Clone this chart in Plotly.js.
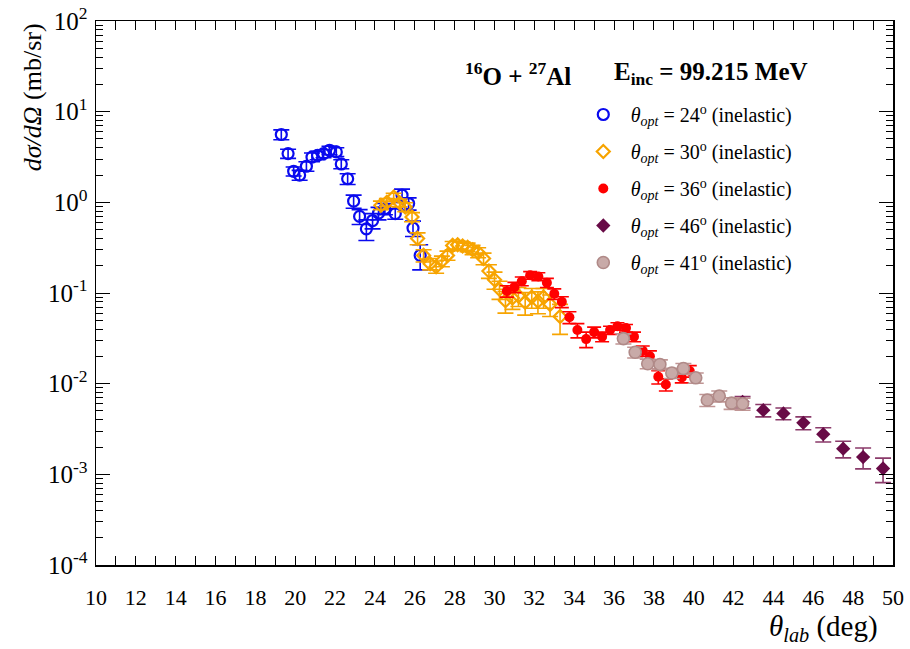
<!DOCTYPE html>
<html>
<head>
<meta charset="utf-8">
<script src="https://cdn.plot.ly/plotly-3.0.1.min.js"></script>
<style>html,body{margin:0;padding:0;background:#fff;}#chart{width:910px;height:649px;}</style>
</head>
<body>
<div id="chart"></div>
<script>
// ---- data ----
var blueX = [19.30,19.64,19.92,20.22,20.56,20.84,21.12,21.42,21.72,22.06,22.31,22.63,22.93,23.23,23.57,23.88,24.18,24.50,25.02,25.36,25.69,25.91,26.27];
var blueY = [5.6,3.45,2.2,2.0,2.5,3.15,3.3,3.45,3.75,3.6,2.65,1.82,1.03,0.70,0.51,0.63,0.76,0.85,0.75,1.2,0.97,0.52,0.26];
var blueE = [0.7,0.4,0.25,0.25,0.3,0.35,0.35,0.35,0.4,0.4,0.3,0.25,0.17,0.13,0.13,0.12,0.12,0.12,0.1,0.2,0.15,0.1,0.08];

var orangeX = [24.30,24.60,24.94,25.24,25.52,25.86,26.14,26.44,26.77,27.07,27.36,27.64,27.90,28.15,28.40,28.65,28.90,29.18,29.45,29.72,30.00,30.25,30.55,30.90,31.20,31.54,31.87,32.18,32.46,32.79,33.29];
var orangeY = [0.93,1.0,1.14,0.99,0.89,0.69,0.40,0.26,0.21,0.195,0.225,0.26,0.335,0.34,0.33,0.32,0.30,0.28,0.24,0.175,0.14,0.11,0.082,0.088,0.093,0.079,0.09,0.081,0.09,0.075,0.055];
var orangeE = [0.1,0.1,0.12,0.1,0.1,0.08,0.06,0.04,0.03,0.03,0.03,0.03,0.035,0.035,0.035,0.035,0.035,0.035,0.035,0.03,0.03,0.025,0.022,0.022,0.022,0.022,0.022,0.022,0.022,0.02,0.02];

var redX = [30.62,31.00,31.37,31.79,32.20,32.63,33.00,33.38,33.76,34.16,34.60,35.00,35.40,35.80,36.17,36.60,37.00,37.44,37.80,38.22,38.60,39.40,39.80];
var redY = [0.105,0.116,0.135,0.157,0.152,0.13,0.098,0.080,0.054,0.039,0.031,0.037,0.033,0.039,0.043,0.041,0.033,0.023,0.020,0.0119,0.0098,0.0117,0.0138];
var redE = [0.015,0.015,0.015,0.015,0.015,0.015,0.013,0.011,0.008,0.007,0.006,0.005,0.004,0.004,0.004,0.004,0.004,0.003,0.003,0.002,0.0015,0.0015,0.002];

var purpleX = [42.45,43.49,44.50,45.50,46.50,47.50,48.50,49.50];
var purpleY = [0.0063,0.0051,0.0047,0.0037,0.00277,0.00192,0.00155,0.00116];
var purpleE = [0.0009,0.0008,0.0007,0.0006,0.0005,0.0004,0.0004,0.00035];

var pinkX = [36.47,37.06,37.69,38.30,38.90,39.48,40.10,40.68,41.28,41.90,42.45];
var pinkY = [0.0314,0.0222,0.0166,0.0163,0.0131,0.0147,0.0116,0.0066,0.0073,0.0061,0.0060];
var pinkE = [0.004,0.003,0.002,0.002,0.0017,0.002,0.0015,0.001,0.001,0.0009,0.0009];

var seriesNames = ['24','30','36','46','41'];
var xTickVals = [10,12,14,16,18,20,22,24,26,28,30,32,34,36,38,40,42,44,46,48,50];
var yTickVals = [1e-4,1e-3,1e-2,1e-1,1,10,100];
var yTickText = ['10<sup>-4</sup>','10<sup>-3</sup>','10<sup>-2</sup>','10<sup>-1</sup>','10<sup>0</sup>','10<sup>1</sup>','10<sup>2</sup>'];

// ---- build ----
function legName(a){ return '<i>θ</i><sub><i>opt</i></sub> = ' + a + '<sup>o</sup> (inelastic)'; }
function errObj(arr, col, w){ return {type:'data', array:arr, visible:true, color:col, thickness:1.6, width:w}; }

var minorY = [];
for (var d = -4; d < 2; d++) { for (var k = 2; k <= 9; k++) minorY.push(k * Math.pow(10, d)); }

var cBlue = '#0a0aee', cOrange = '#f7a400', cRed = '#ff0000', cPurple = '#680a46', cPink = '#c8aaa8', cPinkLine = '#b08a88';

var traces = [
  {x: blueX, y: blueY, error_y: errObj(blueE, cBlue, 8), type:'scatter', mode:'markers', name: legName(seriesNames[0]), legendgroup:'a',
   marker:{symbol:'circle-open', size:11, color:cBlue, line:{width:2.2, color:cBlue}}},
  {x: orangeX, y: orangeY, error_y: errObj(orangeE, cOrange, 8), type:'scatter', mode:'markers', name: legName(seriesNames[1]), legendgroup:'b',
   marker:{symbol:'diamond-open', size:10, color:cOrange, line:{width:2.2, color:cOrange}}},
  {x: redX, y: redY, error_y: errObj(redE, cRed, 7), type:'scatter', mode:'markers', name: legName(seriesNames[2]), legendgroup:'c',
   marker:{symbol:'circle', size:10, color:cRed, line:{width:0}}},
  {x: purpleX, y: purpleY, error_y: errObj(purpleE, '#8a3a6a', 8), type:'scatter', mode:'markers', name: legName(seriesNames[3]), legendgroup:'d',
   marker:{symbol:'diamond', size:11, color:cPurple, line:{width:0}}},
  {x: pinkX, y: pinkY, error_y: errObj(pinkE, '#c09594', 8), type:'scatter', mode:'markers', name: legName(seriesNames[4]), legendgroup:'e',
   marker:{symbol:'circle', size:12, color:cPink, line:{width:1.6, color:cPinkLine}}}
];

var font = "'Liberation Serif', 'DejaVu Serif', serif";
var layout = {
  width: 910, height: 649,
  margin: {l: 96, r: 17, t: 21, b: 84},
  paper_bgcolor: '#fff', plot_bgcolor: '#fff',
  font: {family: font, color: '#000'},
  showlegend: true,
  legend: {x: 0.602, xanchor: 'left', y: 0.864, yanchor: 'top', bgcolor: 'rgba(0,0,0,0)',
           font: {family: font, size: 20, color: '#000'}, tracegroupgap: 8, itemwidth: 45},
  xaxis: {range: [10, 50], showgrid: false, zeroline: false, showline: true, linecolor: '#000', linewidth: 1.5, mirror: 'allticks',
          ticks: 'inside', ticklen: 9, tickwidth: 1, tickcolor: '#000', tickmode: 'array', tickvals: xTickVals,
          tickfont: {family: font, size: 22, color: '#000'}, ticklabelstandoff: 12,
          minor: {dtick: 1, ticks: 'inside', ticklen: 9, tickwidth: 1, tickcolor: '#000', showgrid: false}},
  yaxis: {type: 'log', range: [-4, 2], showgrid: false, zeroline: false, showline: true, linecolor: '#000', linewidth: 1.5, mirror: 'allticks',
          ticks: 'inside', ticklen: 14, tickwidth: 1, tickcolor: '#000', tickmode: 'array', tickvals: yTickVals, ticktext: yTickText,
          tickfont: {family: font, size: 25, color: '#000'}, ticklabelstandoff: 2,
          minor: {tickmode: 'array', tickvals: minorY, ticks: 'inside', ticklen: 7, tickwidth: 1, tickcolor: '#000', showgrid: false}},
  annotations: [
    {text: '<b><sup>16</sup>O + <sup>27</sup>Al</b>', xref: 'paper', yref: 'paper', x: 0.530, y: 0.903, xanchor: 'center', yanchor: 'middle',
     showarrow: false, font: {family: font, size: 25, color: '#000'}},
    {text: '<b>E<sub>inc</sub> = 99.215 MeV</b>', xref: 'paper', yref: 'paper', x: 0.648, y: 0.903, xanchor: 'left', yanchor: 'middle',
     showarrow: false, font: {family: font, size: 25, color: '#000'}},
    {text: '<i>dσ/dΩ</i> (mb/sr)', xref: 'paper', yref: 'paper', x: -0.080, y: 1.0, xanchor: 'center', yanchor: 'top', textangle: -90,
     showarrow: false, font: {family: font, size: 26, color: '#000'}},
    {text: '<i>θ</i><sub><i>lab</i></sub> (deg)', xref: 'paper', yref: 'paper', x: 0.984, y: -0.116, xanchor: 'right', yanchor: 'middle',
     showarrow: false, font: {family: font, size: 29, color: '#000'}}
  ]
};
Plotly.newPlot('chart', traces, layout, {displayModeBar: false, staticPlot: true});
</script>
</body>
</html>
